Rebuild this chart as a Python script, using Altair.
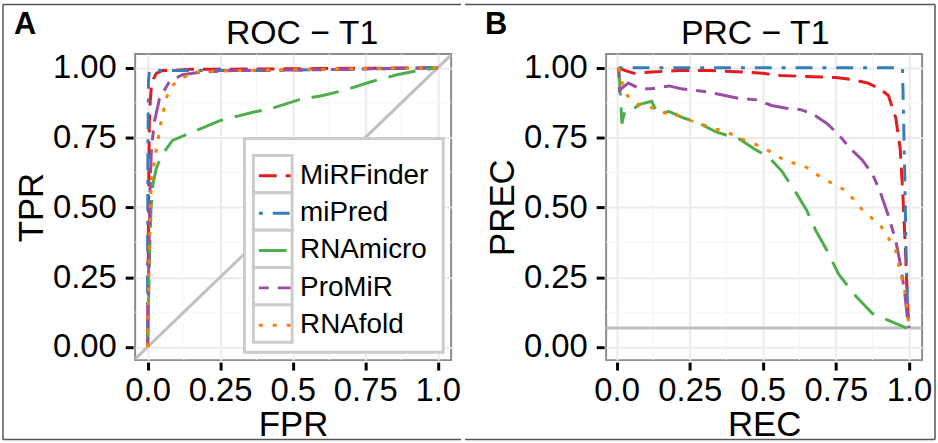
import altair as alt
import pandas as pd

FONT = "Liberation Sans"

models = ["MiRFinder", "miPred", "RNAmicro", "ProMiR", "RNAfold"]
colors = ["#E41A1C", "#377EB8", "#4DAF4A", "#984EA3", "#FF7F00"]
dashes = [[18, 9], [4, 10, 17, 10], [28, 12], [10, 9, 24, 9], [4, 10]]

x_ticks = [0, 0.25, 0.5, 0.75, 1.0]
x_tick_labels = ["0.0", "0.25", "0.5", "0.75", "1.0"]
y_ticks = [0, 0.25, 0.5, 0.75, 1.0]
minor_ticks = [0.125, 0.375, 0.625, 0.875]

# ---- ROC (FPR, TPR) ----
roc_fpr_mirfinder = [0, 0.002, 0.004, 0.006, 0.009, 0.013, 0.02, 0.03, 0.05, 0.08, 0.15, 0.3, 0.6, 1.0]
roc_tpr_mirfinder = [0, 0.3, 0.6, 0.8, 0.88, 0.93, 0.96, 0.98, 0.99, 0.99, 0.995, 0.995, 0.997, 1.0]
roc_fpr_mipred = [0, 0, 0.001, 0.003, 0.006, 0.05, 0.17, 0.4, 1.0]
roc_tpr_mipred = [0, 0.3, 0.7, 0.95, 0.99, 0.99, 0.99, 0.99, 1.0]
roc_fpr_rnamicro = [0, 0.004, 0.008, 0.012, 0.018, 0.03, 0.05, 0.086, 0.155, 0.247, 0.36, 0.43, 0.52, 0.6, 0.68, 0.77, 0.86, 0.93, 1.0]
roc_tpr_rnamicro = [0, 0.2, 0.38, 0.5, 0.58, 0.64, 0.69, 0.74, 0.77, 0.81, 0.84, 0.855, 0.885, 0.9, 0.92, 0.95, 0.975, 0.99, 1.0]
roc_fpr_promir = [0, 0.004, 0.008, 0.013, 0.024, 0.041, 0.075, 0.12, 0.19, 0.3, 0.6, 1.0]
roc_tpr_promir = [0, 0.3, 0.55, 0.71, 0.81, 0.89, 0.95, 0.975, 0.985, 0.99, 0.993, 1.0]
roc_fpr_rnafold = [0, 0.004, 0.008, 0.013, 0.024, 0.034, 0.047, 0.064, 0.08, 0.11, 0.17, 0.3, 0.6, 1.0]
roc_tpr_rnafold = [0, 0.25, 0.45, 0.6, 0.67, 0.73, 0.81, 0.89, 0.93, 0.96, 0.985, 0.99, 0.995, 1.0]

# ---- PRC (REC, PREC) ----
prc_rec_mirfinder = [0.007, 0.03, 0.06, 0.12, 0.21, 0.32, 0.43, 0.5, 0.56, 0.67, 0.75, 0.81, 0.86, 0.9, 0.93, 0.955, 0.97, 0.98, 0.99, 0.995, 1.0]
prc_prec_mirfinder = [1.0, 0.99, 0.98, 0.985, 0.99, 0.99, 0.985, 0.98, 0.972, 0.968, 0.965, 0.957, 0.945, 0.925, 0.90, 0.82, 0.71, 0.53, 0.30, 0.15, 0.068]
prc_rec_mipred = [0.007, 0.978, 0.982, 0.986, 0.99, 0.995, 1.0]
prc_prec_mipred = [1.0, 1.0, 0.8, 0.6, 0.35, 0.15, 0.068]
prc_rec_rnamicro = [0.007, 0.012, 0.018, 0.022, 0.03, 0.053, 0.082, 0.12, 0.14, 0.18, 0.23, 0.285, 0.34, 0.42, 0.47, 0.52, 0.565, 0.615, 0.65, 0.68, 0.72, 0.76, 0.82, 0.875, 0.93, 0.993]
prc_prec_rnamicro = [1.0, 0.92, 0.8, 0.82, 0.85, 0.85, 0.87, 0.88, 0.835, 0.843, 0.82, 0.80, 0.77, 0.745, 0.71, 0.68, 0.63, 0.55, 0.49, 0.42, 0.345, 0.26, 0.18, 0.12, 0.095, 0.068]
prc_rec_promir = [0.007, 0.01, 0.04, 0.08, 0.12, 0.18, 0.22, 0.30, 0.35, 0.42, 0.48, 0.53, 0.58, 0.63, 0.67, 0.72, 0.76, 0.80, 0.84, 0.875, 0.9, 0.93, 0.955, 0.97, 0.985, 0.995, 1.0]
prc_prec_promir = [1.0, 0.92, 0.945, 0.925, 0.925, 0.935, 0.925, 0.915, 0.905, 0.89, 0.885, 0.865, 0.855, 0.85, 0.835, 0.80, 0.76, 0.71, 0.67, 0.62, 0.56, 0.47, 0.38, 0.30, 0.2, 0.1, 0.068]
prc_rec_rnafold = [0.007, 0.014, 0.02, 0.037, 0.07, 0.115, 0.15, 0.195, 0.24, 0.285, 0.34, 0.4, 0.445, 0.49, 0.535, 0.58, 0.64, 0.68, 0.73, 0.785, 0.85, 0.9, 0.93, 0.955, 0.97, 0.99, 1.0]
prc_prec_rnafold = [1.0, 0.97, 0.94, 0.9, 0.87, 0.86, 0.84, 0.835, 0.815, 0.80, 0.78, 0.76, 0.737, 0.72, 0.694, 0.665, 0.65, 0.62, 0.59, 0.56, 0.48, 0.44, 0.39, 0.345, 0.27, 0.18, 0.07]

prc_baseline = [0.068]

roc_series = {
    "MiRFinder": (roc_fpr_mirfinder, roc_tpr_mirfinder),
    "miPred": (roc_fpr_mipred, roc_tpr_mipred),
    "RNAmicro": (roc_fpr_rnamicro, roc_tpr_rnamicro),
    "ProMiR": (roc_fpr_promir, roc_tpr_promir),
    "RNAfold": (roc_fpr_rnafold, roc_tpr_rnafold),
}
prc_series = {
    "MiRFinder": (prc_rec_mirfinder, prc_prec_mirfinder),
    "miPred": (prc_rec_mipred, prc_prec_mipred),
    "RNAmicro": (prc_rec_rnamicro, prc_prec_rnamicro),
    "ProMiR": (prc_rec_promir, prc_prec_promir),
    "RNAfold": (prc_rec_rnafold, prc_prec_rnafold),
}


def to_long(series):
    rows = []
    for m, (xs, ys) in series.items():
        for i, (a, b) in enumerate(zip(xs, ys)):
            rows.append({"model": m, "x": a, "y": b, "order": i})
    return pd.DataFrame(rows)


roc_df = to_long(roc_series)
prc_df = to_long(prc_series)

roc_xdom = [-0.043, 1.046]
prc_xdom = [-0.036, 1.045]
ydom = [-0.047, 1.049]

GRID = "#ebebeb"
MINOR = "#f4f4f4"
REF = "#c0c0c0"
LEG_GREY = "#cccccc"
FRAME = "#555555"

label_expr = " : ".join(
    f"datum.value == {v} ? '{l}'" for v, l in zip(x_ticks, x_tick_labels)
) + " : ''"


def axis(title, values, xaxis):
    kw = dict(
        title=title, values=values, grid=True, gridColor=GRID, gridWidth=2,
        domain=False, ticks=True, tickColor="black", tickWidth=3, tickSize=8,
        offset=2, labelFont=FONT, labelFontSize=33, labelColor="black",
        titleFont=FONT, titleFontSize=35, titleFontWeight="normal", titleColor="black",
    )
    if xaxis:
        kw.update(labelExpr=label_expr, labelPadding=5, titlePadding=0)
    else:
        kw.update(format=".2f", labelPadding=9, titlePadding=3)
    return alt.Axis(**kw)


def one_row():
    return pd.DataFrame({"f": [0]})


def frame_rule(x1, x2, y1, y2):
    return alt.Chart(one_row()).mark_rule(color=FRAME, strokeWidth=1.5).encode(
        x=alt.value(x1), x2=alt.value(x2), y=alt.value(y1), y2=alt.value(y2))


def panel(df, xdom, xtitle, ytitle, title, title_x, letter, ref_layer_fn, show_legend,
          frame):
    xs = alt.Scale(domain=xdom, nice=False, zero=False)
    ys = alt.Scale(domain=ydom, nice=False, zero=False)
    xa = axis(xtitle, x_ticks, True)
    ya = axis(ytitle, y_ticks, False)
    minor_df = pd.DataFrame({"v": minor_ticks})

    minor_x = alt.Chart(minor_df).mark_rule(color=MINOR, strokeWidth=1).encode(
        x=alt.X("v:Q", scale=xs, axis=xa))
    minor_y = alt.Chart(minor_df).mark_rule(color=MINOR, strokeWidth=1).encode(
        y=alt.Y("v:Q", scale=ys, axis=None))

    ref = ref_layer_fn(xs, ys, xa)

    if show_legend:
        leg = alt.Legend(
            title=None, orient="none", legendX=123, legendY=105, padding=0,
            labelFont=FONT, labelFontSize=28, labelColor="black",
            symbolType="stroke", symbolSize=1024, symbolStrokeWidth=3,
            labelOffset=8, rowPadding=5.6,
        )
    else:
        leg = None

    lines = alt.Chart(df).mark_line(strokeWidth=3, clip=True).encode(
        x=alt.X("x:Q", scale=xs, axis=xa),
        y=alt.Y("y:Q", scale=ys, axis=ya),
        order="order:Q",
        color=alt.Color("model:N", scale=alt.Scale(domain=models, range=colors),
                        sort=models, legend=leg),
        strokeDash=alt.StrokeDash("model:N", scale=alt.Scale(domain=models, range=dashes),
                                  sort=models, legend=leg),
    )

    head = alt.Chart(pd.DataFrame({"t": [title]})).mark_text(
        font=FONT, fontSize=34, align="center", baseline="alphabetic", color="black",
    ).encode(text="t:N", x=alt.value(title_x), y=alt.value(-10))

    letter_mark = alt.Chart(pd.DataFrame({"t": [letter]})).mark_text(
        font=FONT, fontSize=31, fontWeight="bold", align="left", baseline="alphabetic",
        color="black",
    ).encode(text="t:N", x=alt.value(-122), y=alt.value(-20))

    layers = [minor_x, minor_y, ref, lines]

    if show_legend:
        # legend frame and key boxes (drawn beneath the legend's symbols and labels)
        outer = alt.Chart(one_row()).mark_rect(
            fill="white", stroke=LEG_GREY, strokeWidth=3).encode(
            x=alt.value(110), x2=alt.value(310), y=alt.value(85), y2=alt.value(300))
        box_df = pd.DataFrame({"model": models})
        boxes = alt.Chart(box_df).mark_rect(
            fill="white", stroke=LEG_GREY, strokeWidth=3).encode(
            x=alt.value(119), x2=alt.value(158),
            y=alt.Y("model:N", sort=models, axis=None,
                    scale=alt.Scale(domain=models, range=[102, 290],
                                    paddingInner=0, paddingOuter=0)),
        )
        layers += [outer, boxes]

    layers += [head, letter_mark] + frame
    return alt.layer(*layers).resolve_scale(y="independent").properties(
        width=318, height=308)


def roc_ref(xs, ys, xa):
    d = pd.DataFrame({"x": roc_xdom, "y": roc_xdom})
    return alt.Chart(d).mark_line(color=REF, strokeWidth=3, clip=True).encode(
        x=alt.X("x:Q", scale=xs, axis=xa),
        y=alt.Y("y:Q", scale=alt.Scale(domain=ydom, nice=False, zero=False), axis=None))


def prc_ref(xs, ys, xa):
    d = pd.DataFrame({"b": prc_baseline})
    return alt.Chart(d).mark_rule(color=REF, strokeWidth=3).encode(
        y=alt.Y("b:Q", scale=alt.Scale(domain=ydom, nice=False, zero=False), axis=None))


TOP, BOT = -50, 388
frame_a = [frame_rule(-133, 328, TOP, TOP), frame_rule(-133, 328, BOT, BOT),
           frame_rule(-133, -133, TOP, BOT)]
frame_b = [frame_rule(-142, 331, TOP, TOP), frame_rule(-142, 331, BOT, BOT),
           frame_rule(331, 331, TOP, BOT)]

roc = panel(roc_df, roc_xdom, "FPR", "TPR", "ROC − T1", 168, "A", roc_ref, True, frame_a)
prc = panel(prc_df, prc_xdom, "REC", "PREC", "PRC − T1", 150, "B", prc_ref, False, frame_b)

chart = alt.hconcat(roc, prc, spacing=0).resolve_scale(
    color="independent", strokeDash="independent", x="independent"
).properties(
    padding={"left": 1, "top": 1, "right": 1, "bottom": 0}, background="white"
).configure_view(stroke="#8c8c8c", strokeWidth=2)

chart.save("out.html", embed_options={"renderer": "svg", "actions": False})
